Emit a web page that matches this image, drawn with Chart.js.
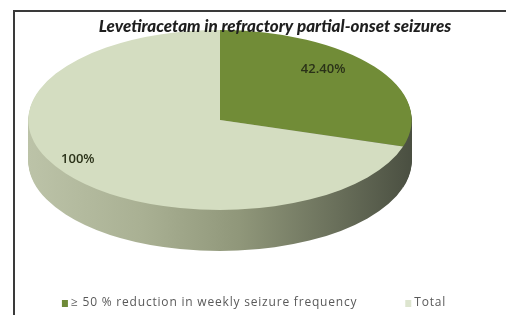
<!DOCTYPE html>
<html><head><meta charset="utf-8">
<script src="https://cdn.jsdelivr.net/npm/chart.js@4.4.1/dist/chart.umd.min.js"></script>
<style>
html,body{margin:0;padding:0;background:#fff;overflow:hidden;}
#wrap{position:relative;width:506px;height:315px;overflow:hidden;}
#frame{position:absolute;left:13px;top:10px;width:600px;height:400px;border-left:2px solid #3a3a3a;border-top:2px solid #3a3a3a;}
canvas{position:absolute;left:0;top:0;}
</style></head><body>
<div id="wrap"><div id="frame"></div><canvas id="c" width="506" height="315"></canvas></div>
<script>
// ---- data ----
const chartTitle = 'Levetiracetam in refractory partial-onset seizures';
const categories = ['≥ 50 % reduction in weekly seizure frequency', 'Total'];
const values = [42.4, 100];
const valueLabels = ['42.40%', '100%'];

// ---- style ----
const sliceColors = ['#718c37', '#d4ddc1'];
const legendColors = ['#6f8a38', '#dde5cf'];
const STRETCH = 2.13;   // horizontal flattening of the pie
const DEPTH = 41;       // thickness of the 3D side
const labelPlacement = [[0.78, -10], [0.86, 6]]; // radius fraction, angle shift (deg)

const pie3d = {
  id: 'pie3d',
  beforeDatasetsDraw(chart) {
    const ctx = chart.ctx;
    const meta = chart.getDatasetMeta(0);
    const a0 = meta.data[0];
    const cx = a0.x, cy = a0.y, R = a0.outerRadius;
    const grad = ctx.createLinearGradient(cx - R, 0, cx + R, 0);
    grad.addColorStop(0, '#bcc3a8');
    grad.addColorStop(0.3, '#a9b093');
    grad.addColorStop(0.55, '#90977a');
    grad.addColorStop(0.8, '#6a705b');
    grad.addColorStop(1, '#4a4f41');
    for (let d = DEPTH; d >= 1; d--) {
      ctx.save();
      ctx.translate(cx, cy + d); ctx.scale(STRETCH, 1); ctx.translate(-cx, -cy);
      meta.data.forEach(arc => {
        const p = Object.create(arc);
        p.options = Object.assign({}, arc.options, {backgroundColor: grad, borderWidth: 0});
        arc.draw.call(p, ctx);
      });
      ctx.restore();
    }
    ctx.save();
    ctx.translate(cx, cy); ctx.scale(STRETCH, 1); ctx.translate(-cx, -cy);
  },
  afterDatasetsDraw(chart) {
    const ctx = chart.ctx;
    ctx.restore();
    const meta = chart.getDatasetMeta(0);
    ctx.save();
    ctx.font = '600 13px "Open Sans"';
    ctx.fillStyle = '#2a3118';
    ctx.textAlign = 'center';
    ctx.textBaseline = 'middle';
    meta.data.forEach((arc, i) => {
      const [f, sh] = labelPlacement[i];
      const mid = (arc.startAngle + arc.endAngle) / 2 + sh * Math.PI / 180;
      const r = arc.outerRadius * f;
      ctx.fillText(valueLabels[i], arc.x + r * Math.cos(mid) * STRETCH, arc.y + r * Math.sin(mid));
    });
    ctx.restore();
  },
  afterDraw(chart) {
    const ctx = chart.ctx;
    ctx.save();
    // title
    ctx.font = 'italic 900 17px Lato';
    ctx.fillStyle = '#1e1e1e';
    ctx.textAlign = 'center';
    ctx.textBaseline = 'middle';
    ctx.fillText(chartTitle, 275, 27);
    // legend
    ctx.font = '12px "Open Sans"';
    ctx.letterSpacing = '0.8px';
    ctx.textAlign = 'left';
    const box = 6, gapText = 3, gapItem = 48, ly = 303;
    let total = 0;
    categories.forEach((c, i) => { total += box + gapText + ctx.measureText(c).width + (i ? 0 : gapItem); });
    let x = 254 - total / 2;
    categories.forEach((c, i) => {
      ctx.fillStyle = legendColors[i];
      ctx.fillRect(x, ly - box / 2, box, box + 1);
      ctx.fillStyle = '#595959';
      ctx.fillText(c, x + box + gapText, ly);
      x += box + gapText + ctx.measureText(c).width + gapItem;
    });
    ctx.restore();
  }
};

new Chart(document.getElementById('c'), {
  type: 'pie',
  data: {
    labels: categories,
    datasets: [{ data: values, backgroundColor: sliceColors, borderWidth: 0, clip: false }]
  },
  options: {
    responsive: false,
    devicePixelRatio: 1,
    animation: false,
    layout: { padding: { left: 28, right: 94, top: 30, bottom: 105 } },
    plugins: { legend: { display: false }, title: { display: false }, tooltip: { enabled: false } }
  },
  plugins: [pie3d]
});
</script>
</body></html>
